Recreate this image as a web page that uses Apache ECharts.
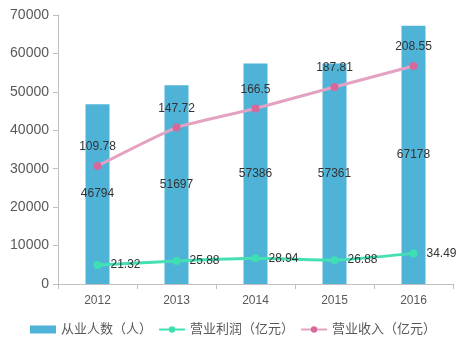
<!DOCTYPE html>
<html><head><meta charset="utf-8">
<script src="https://cdn.jsdelivr.net/npm/echarts@6/dist/echarts.min.js"></script>
<style>html,body{margin:0;padding:0;background:#fff}#c{width:466px;height:350px}</style>
</head><body><div id="c"></div>
<script>
const categories = ['2012','2013','2014','2015','2016'];
const employees = [46794, 51697, 57386, 57361, 67178];
const profit = [21.32, 25.88, 28.94, 26.88, 34.49];
const revenue = [109.78, 147.72, 166.5, 187.81, 208.55];
const yTicks = [0, 10000, 20000, 30000, 40000, 50000, 60000, 70000];
const names = ['从业人数（人）', '营业利润（亿元）', '营业收入（亿元）'];

const font = 'Arial, "Liberation Sans", "Noto Sans CJK SC", sans-serif';
const chart = echarts.init(document.getElementById('c'), null, {renderer: 'canvas'});
chart.setOption({
  animation: false,
  textStyle: {fontFamily: font},
  grid: {left: 58, right: 13, top: 15, bottom: 66},
  legend: {
    bottom: 9, left: 'center', itemGap: 6, itemWidth: 26, itemHeight: 8,
    textStyle: {color: '#595959', fontSize: 13, fontFamily: font},
    data: [
      {name: names[0], icon: 'rect'},
      {name: names[1]},
      {name: names[2]}
    ]
  },
  xAxis: {
    type: 'category', data: categories,
    axisLine: {lineStyle: {color: '#bfbfbf'}},
    axisTick: {show: true, length: 5, lineStyle: {color: '#bfbfbf'}},
    axisLabel: {color: '#595959', fontSize: 12, margin: 11}
  },
  yAxis: [
    {type: 'value', min: yTicks[0], max: yTicks[yTicks.length - 1], interval: 10000,
     axisLine: {show: true, lineStyle: {color: '#bfbfbf'}},
     axisTick: {show: true, length: 5, lineStyle: {color: '#bfbfbf'}},
     splitLine: {show: false},
     axisLabel: {color: '#595959', fontSize: 14, margin: 9, formatter: v => String(v)}},
    {type: 'value', min: -7, max: 259, show: false, splitLine: {show: false}},
    {type: 'value', min: 0, max: 303, show: false, splitLine: {show: false}}
  ],
  series: [
    {name: names[0], type: 'bar', data: employees, barWidth: 24,
     itemStyle: {color: '#4fb3d8'},
     label: {show: true, position: 'inside', color: '#333', fontSize: 12, formatter: p => String(p.value)}},
    {name: names[1], type: 'line', yAxisIndex: 2, data: profit, smooth: 0.15,
     symbol: 'circle', symbolSize: 8,
     lineStyle: {color: '#44e0b4', width: 3},
     itemStyle: {color: '#3ee0b2'},
     label: {show: true, position: 'right', distance: 9, color: '#333', fontSize: 12}},
    {name: names[2], type: 'line', yAxisIndex: 1, data: revenue, smooth: 0.15,
     symbol: 'circle', symbolSize: 8,
     lineStyle: {color: '#e4a2c2', width: 3},
     itemStyle: {color: '#d8679c'},
     label: {show: true, position: 'top', distance: 9, color: '#333', fontSize: 12}}
  ]
});
</script></body></html>
